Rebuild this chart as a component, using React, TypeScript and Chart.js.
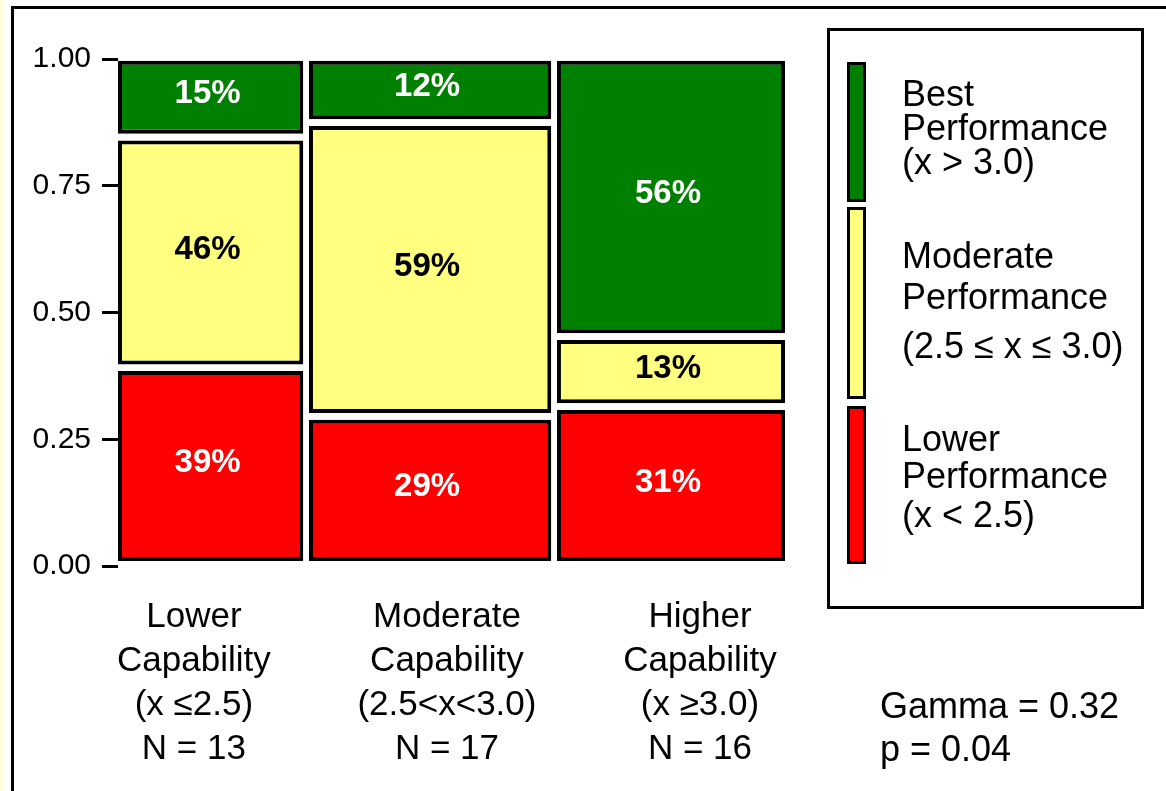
import React, { useEffect, useRef } from 'react';
import { Chart, registerables } from 'chart.js';

Chart.register(...registerables);

// ---------------- data ----------------
const capabilityLabels: string[][] = [
  ['Lower', 'Capability', '(x ≤2.5)', 'N = 13'],
  ['Moderate', 'Capability', '(2.5<x<3.0)', 'N = 17'],
  ['Higher', 'Capability', '(x ≥3.0)', 'N = 16'],
];
const groupN = [13, 17, 16];
// percentages per capability group (bottom to top: lower, moderate, best)
const lowerPct = [39, 29, 31];
const moderatePct = [46, 59, 13];
const bestPct = [15, 12, 56];
const yTickValues = [0, 0.25, 0.5, 0.75, 1];
const legendTexts: string[][] = [
  ['Best', 'Performance', '(x > 3.0)'],
  ['Moderate', 'Performance', '(2.5 ≤ x ≤ 3.0)'],
  ['Lower', 'Performance', '(x < 2.5)'],
];
const statsLines = ['Gamma = 0.32', 'p = 0.04'];

// ---------------- styles ----------------
const FONT = '"Liberation Sans", Arial, Helvetica, sans-serif';
const GREEN = '#008000';
const YELLOW = '#FFFF80';
const RED = '#FF0000';
const segmentColors = [RED, YELLOW, GREEN];
const legendColors = [GREEN, YELLOW, RED];

const COL_GAP = 0.4; // horizontal gap between columns, in N units
const BASE = 0.01;
const TOP = 0.9965;
const SEG_GAP = 0.0132;

const totalN = groupN.reduce((a, b) => a + b, 0);
const xMax = totalN + COL_GAP * (groupN.length - 1);

const columns = groupN.map((n, i) => {
  const start = groupN.slice(0, i).reduce((a, b) => a + b, 0) + i * COL_GAP;
  return { start, end: start + n, center: start + n / 2 };
});

const avail = TOP - BASE - 2 * SEG_GAP;

const datasets = columns.map((col, i) => {
  const pcts = [lowerPct[i], moderatePct[i], bestPct[i]];
  let y = BASE;
  const data = pcts.map((p) => {
    const y0 = y;
    const y1 = y0 + (p / 100) * avail;
    y = y1 + SEG_GAP;
    return { x: col.center, y: [y0, y1] };
  });
  return {
    label: capabilityLabels[i].slice(0, 2).join(' '),
    data,
    xAxisID: 'x',
    yAxisID: 'y',
    backgroundColor: segmentColors,
    borderColor: '#000000',
    borderWidth: 4,
    borderSkipped: false,
    inflateAmount: 0,
    grouped: false,
    barThickness: (ctx: any) => {
      const xs = ctx.chart.scales.x;
      if (!xs) return 1;
      const w = xs.getPixelForValue(col.end) - xs.getPixelForValue(col.start);
      return isFinite(w) && w > 0 ? w : 1;
    },
  };
});

const framePlugin = {
  id: 'frame',
  beforeDraw(chart: any) {
    const { ctx, width, height } = chart;
    ctx.save();
    ctx.fillStyle = '#FFFFFF';
    ctx.fillRect(0, 0, width, height);
    ctx.fillStyle = '#FFFFD8';
    ctx.fillRect(0, 0, 3, height);
    ctx.fillStyle = '#000000';
    ctx.fillRect(11, 6, 3, height - 6);
    ctx.fillRect(11, 6, width - 11, 3);
    ctx.restore();
  },
};

const pctLabelPlugin = {
  id: 'pctLabels',
  afterDatasetsDraw(chart: any) {
    const { ctx } = chart;
    ctx.save();
    ctx.font = `bold 33px ${FONT}`;
    ctx.textAlign = 'center';
    ctx.textBaseline = 'middle';
    chart.data.datasets.forEach((_ds: any, di: number) => {
      const meta = chart.getDatasetMeta(di);
      const pcts = [lowerPct[di], moderatePct[di], bestPct[di]];
      meta.data.forEach((el: any, j: number) => {
        const { x, y, base } = el.getProps(['x', 'y', 'base'], true);
        ctx.fillStyle = j === 1 ? '#000000' : '#FFFFFF';
        ctx.fillText(pcts[j] + '%', x - 3, (y + base) / 2 - 3);
      });
    });
    ctx.restore();
  },
};

const legendPlugin = {
  id: 'customLegend',
  afterDraw(chart: any) {
    const { ctx } = chart;
    ctx.save();
    // legend frame
    ctx.strokeStyle = '#000000';
    ctx.lineWidth = 3;
    ctx.strokeRect(828.5, 29.5, 314, 578);
    // swatches
    const swatches = [
      [62, 202],
      [207, 399],
      [406, 564],
    ];
    const textY = [
      [96, 130, 164],
      [258, 299, 348],
      [441, 478, 517],
    ];
    swatches.forEach(([t, b], i) => {
      ctx.fillStyle = legendColors[i];
      ctx.fillRect(847, t, 19, b - t);
      ctx.lineWidth = 3;
      ctx.strokeRect(848.5, t + 1.5, 16, b - t - 3);
    });
    ctx.fillStyle = '#000000';
    ctx.font = `36px ${FONT}`;
    ctx.textAlign = 'left';
    ctx.textBaseline = 'middle';
    legendTexts.forEach((lines, i) => {
      lines.forEach((line, k) => ctx.fillText(line, 902, textY[i][k]));
    });
    // statistics
    statsLines.forEach((line, k) => ctx.fillText(line, 880, 708 + k * 43));
    ctx.restore();
  },
};

export default function App() {
  const ref = useRef<HTMLCanvasElement>(null);
  useEffect(() => {
    const canvas = ref.current;
    if (!canvas) return;
    const chart = new Chart(canvas, {
      type: 'bar',
      data: { datasets: datasets as any },
      options: {
        animation: false,
        responsive: false,
        devicePixelRatio: 1,
        layout: { padding: { top: 59, right: 381, bottom: 0, left: 0 } },
        plugins: {
          legend: { display: false },
          tooltip: { enabled: false },
          title: { display: false },
        },
        scales: {
          x: {
            type: 'linear',
            display: false,
            offset: false,
            grid: { offset: false },
            min: 0,
            max: xMax,
          },
          xl: {
            type: 'linear',
            position: 'bottom',
            offset: false,
            min: 0.7,
            max: 3.336,
            grid: { display: false, drawTicks: false, offset: false },
            border: { display: false },
            afterBuildTicks: (scale: any) => {
              scale.ticks = capabilityLabels.map((_l, i) => ({ value: i + 1 }));
            },
            afterFit: (scale: any) => {
              scale.height = 225;
              scale.paddingLeft = 0;
              scale.paddingRight = 0;
            },
            ticks: {
              autoSkip: false,
              maxRotation: 0,
              minRotation: 0,
              padding: 29,
              color: '#000000',
              font: { family: FONT, size: 35, lineHeight: 1.26 },
              callback: (v: any) => capabilityLabels[Math.round(Number(v)) - 1] || '',
            },
          },
          y: {
            type: 'linear',
            min: 0,
            max: 1,
            afterBuildTicks: (scale: any) => {
              scale.ticks = yTickValues.map((v) => ({ value: v }));
            },
            afterFit: (scale: any) => {
              scale.width = 118;
              scale.paddingTop = 0;
              scale.paddingBottom = 0;
            },
            grid: {
              display: true,
              drawOnChartArea: false,
              drawTicks: true,
              tickLength: 16,
              tickWidth: 3,
              tickColor: '#000000',
            },
            border: { display: false },
            ticks: {
              padding: 11,
              color: '#000000',
              font: { family: FONT, size: 30 },
              callback: (v: any) => Number(v).toFixed(2),
            },
          },
        },
      } as any,
      plugins: [framePlugin, pctLabelPlugin, legendPlugin],
    });
    return () => chart.destroy();
  }, []);
  return (
    <div style={{ position: 'fixed', left: 0, top: 0, width: 1166, height: 791 }}>
      <canvas ref={ref} width={1166} height={791} style={{ display: 'block', width: 1166, height: 791 }} />
    </div>
  );
}
